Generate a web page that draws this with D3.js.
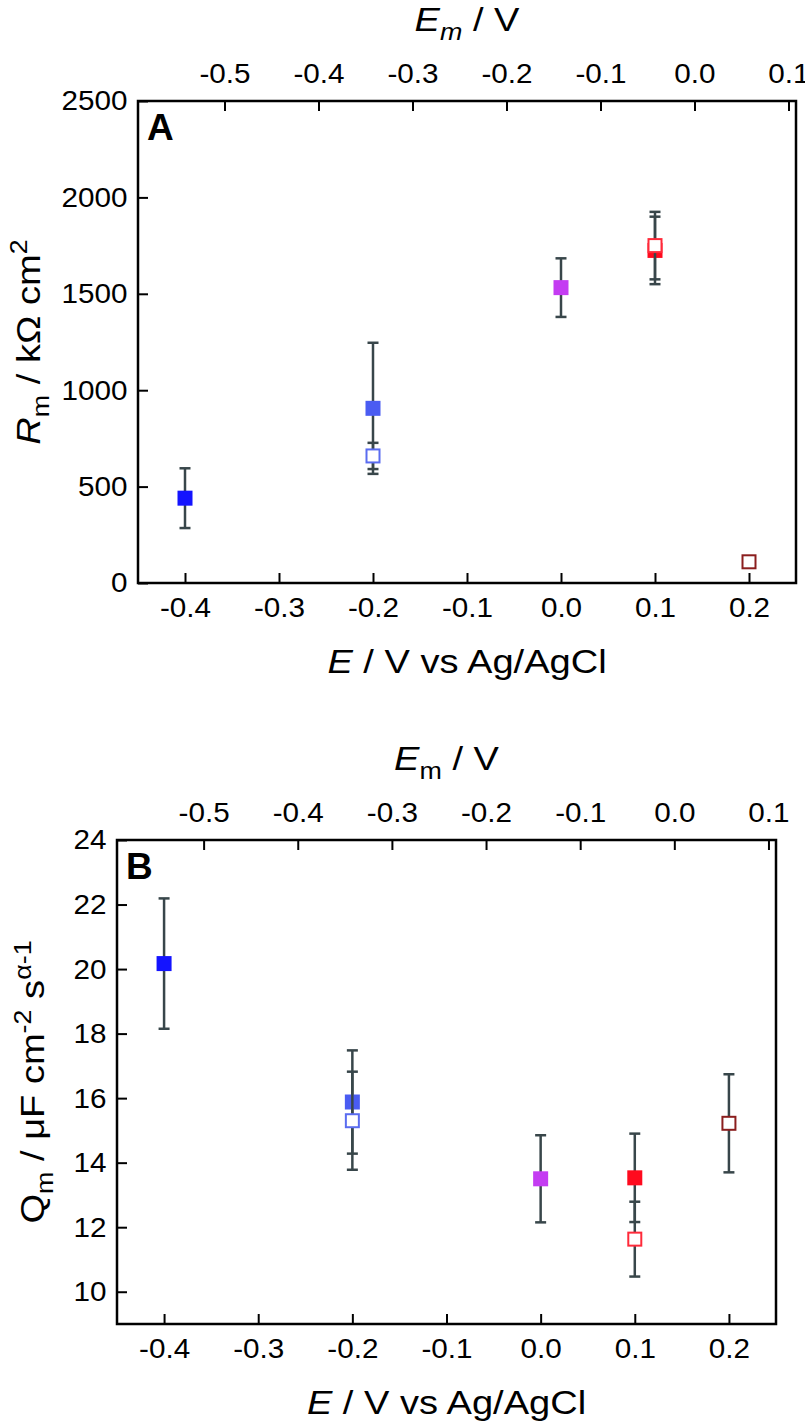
<!DOCTYPE html>
<html>
<head>
<meta charset="utf-8">
<script src="https://cdn.jsdelivr.net/npm/d3@7"></script>
<style>
  body { margin: 0; background: #fff; }
  text { font-family: "Liberation Sans", Arial, sans-serif; fill: #000; }
</style>
</head>
<body>
<svg id="chart" width="805" height="1424"></svg>
<script>
// potentials (V vs Ag/AgCl) and tick values
const xTicks = [-0.4, -0.3, -0.2, -0.1, 0.0, 0.1, 0.2];
const xTopTicks = [-0.5, -0.4, -0.3, -0.2, -0.1, 0.0, 0.1];
const emOffset = 0.142; // Em = E - offset
const rmTicks = [0, 500, 1000, 1500, 2000, 2500];
const qmTicks = [10, 12, 14, 16, 18, 20, 22, 24];

// panel A : Rm / kOhm cm2
const rmFilledE = [-0.4, -0.2, 0.0, 0.1];
const rmFilled = [440, 906, 1532, 1725];
const rmFilledErr = [155, 340, 152, 175];
const rmOpenE = [-0.2, 0.1, 0.2];
const rmOpen = [659, 1750, 110];
const rmOpenErr = [68, 175, 18];

// panel B : Qm / uF cm-2 s^(a-1)
const qmFilledE = [-0.4, -0.2, 0.0, 0.1];
const qmFilled = [20.17, 15.88, 13.5, 13.53];
const qmFilledErr = [2.02, 1.6, 1.35, 1.37];
const qmOpenE = [-0.2, 0.1, 0.2];
const qmOpen = [15.3, 11.63, 15.22];
const qmOpenErr = [1.52, 1.16, 1.52];

// marker colours by potential
const filledColor = { "-0.4": "#1414ff", "-0.2": "#4a5cf2", "0": "#c43cf2", "0.1": "#ff0a1e" };
const openColor = { "-0.2": "#5a6cf0", "0.1": "#ff2a3a", "0.2": "#8b1e1e" };

const svg = d3.select("#chart");
const fmt = d => d.toFixed(1);
const titleStretch = 1.12; // the original lettering is a bit wider than Liberation Sans
const tickStretch = 1.06;

function drawPanel(p) {
  const g = svg.append("g");
  const x = d3.scaleLinear().domain([-0.45, 0.25]).range([p.left, p.right]);
  const xTop = d3.scaleLinear().domain([-0.45 - emOffset, 0.25 - emOffset]).range([p.left, p.right]);
  const y = d3.scaleLinear().domain(p.yDomain).range([p.bottom, p.top]);

  // axes, ticks inside
  const bx = g.append("g").attr("transform", `translate(0,${p.bottom})`)
    .call(d3.axisBottom(x).tickValues(xTicks).tickFormat(fmt).tickSize(-10).tickPadding(14));
  const tx = g.append("g").attr("transform", `translate(0,${p.top})`)
    .call(d3.axisTop(xTop).tickValues(xTopTicks).tickFormat(fmt).tickSize(-10).tickPadding(18));
  const ly = g.append("g").attr("transform", `translate(${p.left},0)`)
    .call(d3.axisLeft(y).tickValues(p.yTicks).tickFormat(d => d).tickSize(-10).tickPadding(10));
  [bx, tx, ly].forEach(a => {
    a.select(".domain").remove();
    a.selectAll(".tick line").attr("stroke", "#000").attr("stroke-width", 2);
    a.selectAll("text").style("font-size", "28px").attr("fill", "#000")
      .attr("transform", `scale(${tickStretch},1)`);
  });

  // frame
  g.append("rect")
    .attr("x", p.left).attr("y", p.top)
    .attr("width", p.right - p.left).attr("height", p.bottom - p.top)
    .attr("fill", "none").attr("stroke", "#000").attr("stroke-width", 2.5);

  // error bars + markers
  function series(es, vals, errs, colors, open) {
    const pts = es.map((e, i) => ({ e: e, v: vals[i], err: errs[i], c: colors[String(e)] }));
    const eb = g.append("g").attr("stroke", "#38464a").attr("stroke-width", 2.5);
    pts.forEach(d => {
      const cx = x(d.e);
      eb.append("line").attr("x1", cx).attr("x2", cx).attr("y1", y(d.v - d.err)).attr("y2", y(d.v + d.err));
      [d.v - d.err, d.v + d.err].forEach(v => {
        eb.append("line").attr("x1", cx - 5.5).attr("x2", cx + 5.5).attr("y1", y(v)).attr("y2", y(v));
      });
    });
    g.append("g").selectAll("rect").data(pts).join("rect")
      .attr("x", d => x(d.e) - (open ? 6.5 : 7.5))
      .attr("y", d => y(d.v) - (open ? 6.5 : 7.5))
      .attr("width", open ? 13 : 15).attr("height", open ? 13 : 15)
      .attr("fill", d => open ? "#fff" : d.c)
      .attr("stroke", d => open ? d.c : "none")
      .attr("stroke-width", 2);
  }
  series(p.fE, p.f, p.fErr, filledColor, false);
  series(p.oE, p.o, p.oErr, openColor, true);

  // panel letter
  g.append("text").attr("x", p.left + 9).attr("y", p.top + 39)
    .style("font-size", "37px").style("font-weight", "bold").text(p.letter);

  const cx = (p.left + p.right) / 2;
  // top title
  const tt = g.append("text")
    .attr("transform", `translate(${cx},${p.top - 70}) scale(${titleStretch},1)`)
    .attr("text-anchor", "middle").style("font-size", "34px");
  tt.append("tspan").style("font-style", "italic").text("E");
  tt.append("tspan").attr("dy", 9).style("font-size", "24px")
    .style("font-style", p.italicSub ? "italic" : "normal").text("m");
  tt.append("tspan").attr("dy", -9).text(" / V");

  // bottom title
  const bt = g.append("text")
    .attr("transform", `translate(${cx},${p.bottom + 90}) scale(${titleStretch},1)`)
    .attr("text-anchor", "middle").style("font-size", "34px");
  bt.append("tspan").style("font-style", "italic").text("E");
  bt.append("tspan").text(" / V vs Ag/AgCl");

  // y title
  const yt = g.append("text")
    .attr("transform", `translate(${p.yTitleX},${(p.top + p.bottom) / 2}) rotate(-90) scale(${titleStretch},1)`)
    .attr("text-anchor", "middle").style("font-size", "34px");
  p.yTitle(yt);
}

drawPanel({
  left: 138, right: 796, top: 101, bottom: 583,
  yDomain: [0, 2500], yTicks: rmTicks, letter: "A", italicSub: true, yTitleX: 40,
  fE: rmFilledE, f: rmFilled, fErr: rmFilledErr,
  oE: rmOpenE, o: rmOpen, oErr: rmOpenErr,
  yTitle: t => {
    t.append("tspan").style("font-style", "italic").text("R");
    t.append("tspan").attr("dy", 9).style("font-size", "24px").text("m");
    t.append("tspan").attr("dy", -9).text(" / kΩ cm");
    t.append("tspan").attr("dy", -13).style("font-size", "24px").text("2");
  }
});

drawPanel({
  left: 117, right: 776, top: 840, bottom: 1324,
  yDomain: [9, 24], yTicks: qmTicks, letter: "B", italicSub: false, yTitleX: 44,
  fE: qmFilledE, f: qmFilled, fErr: qmFilledErr,
  oE: qmOpenE, o: qmOpen, oErr: qmOpenErr,
  yTitle: t => {
    t.append("tspan").text("Q");
    t.append("tspan").attr("dy", 9).style("font-size", "24px").text("m");
    t.append("tspan").attr("dy", -9).text(" / μF cm");
    t.append("tspan").attr("dy", -13).style("font-size", "24px").text("-2");
    t.append("tspan").attr("dy", 13).text(" s");
    t.append("tspan").attr("dy", -13).style("font-size", "24px").text("α-1");
  }
});
</script>
</body>
</html>
